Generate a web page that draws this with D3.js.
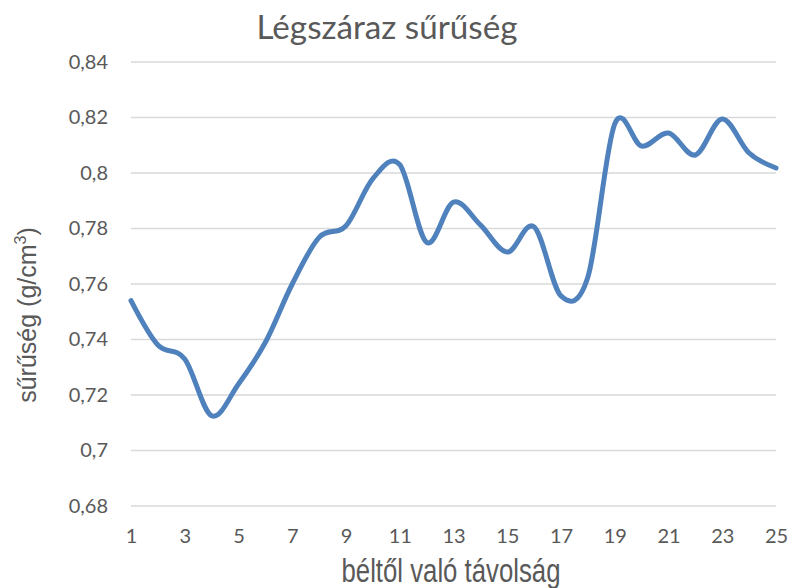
<!DOCTYPE html>
<html>
<head>
    <meta charset="UTF-8">
    <title>Légszáraz sűrűség</title>
    <style>
        body { margin: 0; background: #fff; }
        text { font-family: Lato, "Open Sans", sans-serif; fill: #595959; }
    </style>
</head>
<body>
    <script src="https://cdn.jsdelivr.net/npm/d3@7"></script>
    <script type="text/javascript">
        // adatok
        var distances = d3.range(1, 26);
        var density = [0.754, 0.738, 0.733, 0.7125, 0.724, 0.739, 0.760, 0.7768, 0.781, 0.798,
                       0.803, 0.775, 0.7895, 0.7813, 0.7715, 0.7806, 0.7557, 0.7625, 0.8177, 0.8097,
                       0.8144, 0.8065, 0.8195, 0.8072, 0.8018];
        var yTicks = [0.68, 0.7, 0.72, 0.74, 0.76, 0.78, 0.8, 0.82, 0.84];
        var xTicks = d3.range(1, 26, 2);

        var width = 791, height = 588;
        var svg = d3.select("body").append("svg")
            .attr("width", width)
            .attr("height", height);

        var x = d3.scaleLinear().domain([1, 25]).range([131, 776]);
        var y = d3.scaleLinear().domain([0.68, 0.84]).range([506, 62]);

        var fmt = function (d) { return String(+d.toFixed(2)).replace(".", ","); };

        // rácsvonalak
        svg.append("g")
            .selectAll("line")
            .data(yTicks)
            .enter().append("line")
            .attr("x1", x(1))
            .attr("x2", x(25))
            .attr("y1", function (d) { return y(d); })
            .attr("y2", function (d) { return y(d); })
            .attr("stroke", "#d9d9d9")
            .attr("stroke-width", 1.3);

        // y tengely
        var yAxis = svg.append("g")
            .attr("transform", "translate(" + 108 + ",0)")
            .call(d3.axisLeft(y).tickValues(yTicks).tickFormat(fmt).tickSize(0).tickPadding(0));
        yAxis.select(".domain").remove();
        yAxis.selectAll("text").style("font-size", "20px").attr("fill", "#595959");

        // x tengely
        var xAxis = svg.append("g")
            .attr("transform", "translate(0,529)")
            .call(d3.axisBottom(x).tickValues(xTicks).tickFormat(d3.format("d")).tickSize(0).tickPadding(0));
        xAxis.select(".domain").remove();
        xAxis.selectAll("text").style("font-size", "20px").attr("fill", "#595959");

        // görbe
        var line = d3.line()
            .x(function (d, i) { return x(distances[i]); })
            .y(function (d) { return y(d); })
            .curve(d3.curveCardinal.tension(0));

        svg.append("path")
            .datum(density)
            .attr("d", line)
            .attr("fill", "none")
            .attr("stroke", "#4f81bd")
            .attr("stroke-width", 5)
            .attr("stroke-linecap", "round");

        // cím
        svg.append("text")
            .attr("x", 387)
            .attr("y", 39)
            .attr("text-anchor", "middle")
            .attr("textLength", 261)
            .attr("lengthAdjust", "spacingAndGlyphs")
            .style("font-size", "32px")
            .text("Légszáraz sűrűség");

        // tengelycímek
        svg.append("text")
            .attr("x", 451)
            .attr("y", 582)
            .attr("text-anchor", "middle")
            .attr("textLength", 219)
            .attr("lengthAdjust", "spacingAndGlyphs")
            .style("font-family", "'Liberation Sans Narrow', 'Liberation Sans', sans-serif")
            .style("font-size", "33px")
            .text("béltől való távolság");

        var yt = svg.append("text")
            .attr("transform", "translate(36,315) rotate(-90)")
            .attr("text-anchor", "middle")
            .style("font-family", "'Liberation Sans', Arial, sans-serif")
            .style("font-size", "25px");
        yt.append("tspan").text("sűrűség (g/cm");
        yt.append("tspan").attr("dy", -10).style("font-size", "16px").text("3");
        yt.append("tspan").attr("dy", 10).text(")");
    </script>
</body>
</html>
